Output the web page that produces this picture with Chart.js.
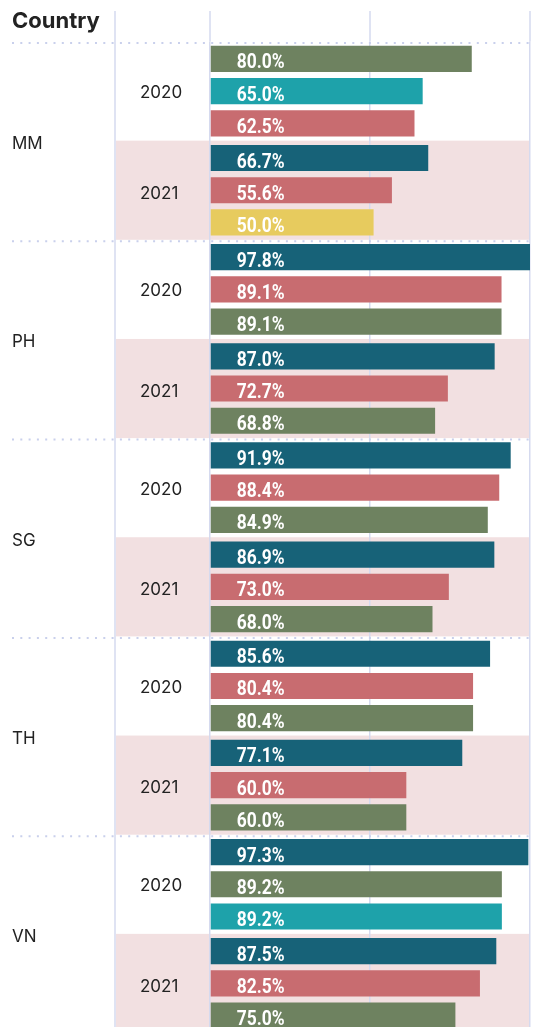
<!DOCTYPE html>
<html>
<head>
<meta charset="utf-8">
<script src="https://cdn.jsdelivr.net/npm/chart.js@4"></script>
<style>
  html, body { margin: 0; padding: 0; background: #fff; overflow: hidden; }
  #wrap { width: 537px; height: 1027px; overflow: hidden; }
</style>
</head>
<body>
<div id="wrap"><canvas id="chart" width="537" height="1040"></canvas></div>
<script>
const countries = ['MM', 'PH', 'SG', 'TH', 'VN'];
const years = ['2020', '2021'];

// three bars per country/year group, listed top to bottom
const topValues = [80.0, 66.7, 97.8, 87.0, 91.9, 86.9, 85.6, 77.1, 97.3, 87.5];
const midValues = [65.0, 55.6, 89.1, 72.7, 88.4, 73.0, 80.4, 60.0, 89.2, 82.5];
const lowValues = [62.5, 50.0, 89.1, 68.8, 84.9, 68.0, 80.4, 60.0, 89.2, 75.0];

const topSeries = ['olive', 'navy', 'navy', 'navy', 'navy', 'navy', 'navy', 'navy', 'navy', 'navy'];
const midSeries = ['teal', 'rose', 'rose', 'rose', 'rose', 'rose', 'rose', 'rose', 'olive', 'rose'];
const lowSeries = ['rose', 'gold', 'olive', 'olive', 'olive', 'olive', 'olive', 'olive', 'teal', 'olive'];

// x axis runs from 0 to the longest bar, with a rule at the halfway mark
const axisTicks = [0, 48.9, 97.8];

const palette = { navy: '#176278', rose: '#c86c70', olive: '#6e8260', teal: '#1ea2aa', gold: '#e7cb5e' };
const RULE = '#d5daef';
const DOTS = '#c9d0ec';
const INK = '#222222';

const groups = countries.flatMap((c) => years.map((y) => `${c} ${y}`));

function bandOf(chart, i) {
  const { chartArea, scales } = chart;
  const h = (chartArea.bottom - chartArea.top) / groups.length;
  const mid = scales.y.getPixelForValue(i);
  return { top: mid - h / 2, bottom: mid + h / 2, mid, h };
}

const frame = {
  id: 'frame',
  beforeDraw(chart) {
    const { ctx, chartArea, scales } = chart;
    ctx.save();
    // shade the second year of each country
    ctx.fillStyle = '#f2e0e1';
    groups.forEach((g, i) => {
      if (i % 2 === 0) return;
      const b = bandOf(chart, i);
      ctx.fillRect(116, b.top, chartArea.right - 116, b.h);
    });
    // column rules that run up into the header
    ctx.strokeStyle = RULE;
    ctx.lineWidth = 1.5;
    ctx.beginPath();
    ctx.moveTo(115, 11);
    ctx.lineTo(115, chart.height);
    scales.x.ticks.forEach((t) => {
      const px = Math.round(scales.x.getPixelForValue(t.value));
      ctx.moveTo(px, 11);
      ctx.lineTo(px, chartArea.top);
    });
    ctx.stroke();
    ctx.restore();
  },
  beforeDatasetsDraw(chart) {
    const { ctx, chartArea } = chart;
    ctx.save();
    ctx.strokeStyle = DOTS;
    ctx.lineWidth = 2;
    ctx.setLineDash([2, 6.3]);
    countries.forEach((c, k) => {
      const b = bandOf(chart, k * 2);
      ctx.beginPath();
      ctx.moveTo(12, b.top + 1.5);
      ctx.lineTo(chartArea.right, b.top + 1.5);
      ctx.stroke();
    });
    ctx.restore();
  },
  afterDatasetsDraw(chart) {
    const { ctx } = chart;
    ctx.save();
    ctx.fillStyle = '#ffffff';
    ctx.font = 'bold 20.5px Roboto';
    ctx.textBaseline = 'alphabetic';
    chart.data.datasets.forEach((ds, d) => {
      chart.getDatasetMeta(d).data.forEach((bar, i) => {
        ctx.save();
        ctx.translate(bar.base + 26, bar.y + 9.5);
        ctx.scale(0.85, 1);
        ctx.fillText(`${ds.data[i].toFixed(1)}%`, 0, 0);
        ctx.restore();
      });
    });
    ctx.restore();
  },
  afterDraw(chart) {
    const { ctx } = chart;
    ctx.save();
    ctx.fillStyle = INK;
    ctx.textBaseline = 'alphabetic';
    ctx.font = 'bold 22px Inter';
    ctx.fillText('Country', 12, 28);
    ctx.font = '17px Inter';
    countries.forEach((c, k) => {
      const a = bandOf(chart, k * 2);
      const b = bandOf(chart, k * 2 + 1);
      ctx.fillText(c, 12, (a.top + b.bottom) / 2 + 8.3);
      ctx.fillText(years[0], 140, a.mid + 7);
      ctx.fillText(years[1], 140, b.mid + 8.3);
    });
    ctx.restore();
  },
};

const makeSet = (values, series) => ({
  data: values,
  backgroundColor: series.map((s) => palette[s]),
  borderWidth: 0,
  barPercentage: 0.8125,
  categoryPercentage: 0.975,
});

new Chart(document.getElementById('chart'), {
  type: 'bar',
  data: {
    labels: groups,
    datasets: [makeSet(topValues, topSeries), makeSet(midValues, midSeries), makeSet(lowValues, lowSeries)],
  },
  options: {
    indexAxis: 'y',
    responsive: false,
    animation: false,
    layout: { padding: { left: 210, right: 7, top: 41.5, bottom: 7 } },
    plugins: { legend: { display: false }, tooltip: { enabled: false } },
    scales: {
      x: {
        min: axisTicks[0],
        max: axisTicks[axisTicks.length - 1],
        afterBuildTicks: (s) => { s.ticks = axisTicks.map((v) => ({ value: v })); },
        ticks: { display: false },
        grid: { color: RULE, lineWidth: 1.5, drawTicks: false },
        border: { display: false },
      },
      y: { display: false },
    },
  },
  plugins: [frame],
});
</script>
</body>
</html>
